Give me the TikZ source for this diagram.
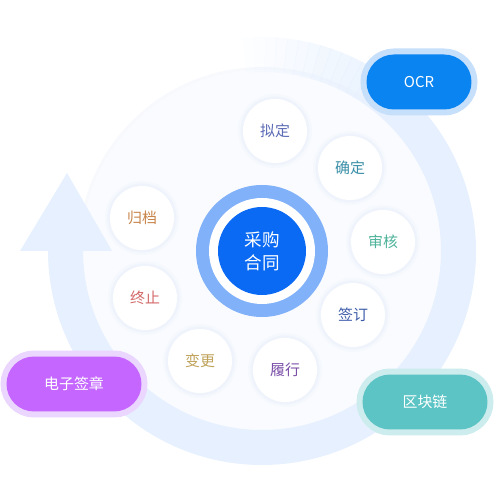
\documentclass[tikz,border=0pt]{standalone}
\usepackage{fontspec}
\setmainfont{Noto Sans CJK SC}
\usetikzlibrary{positioning, shapes.misc, calc}
\definecolor{cBand}{HTML}{E6F0FE}
\definecolor{cDisk}{HTML}{F9FBFF}
\definecolor{cHalo}{HTML}{EFF3FB}
\definecolor{cRing}{HTML}{80B1F9}
\definecolor{cCore}{HTML}{0A6AF3}
\definecolor{cOcr}{HTML}{0A84F0}
\definecolor{cOcrGlow}{HTML}{C6DFFB}
\definecolor{cSign}{HTML}{C466FF}
\definecolor{cSignGlow}{HTML}{EBD6FF}
\definecolor{cChain}{HTML}{5CC4C4}
\definecolor{cChainGlow}{HTML}{CDECEE}
\definecolor{tDraft}{HTML}{5B6BB5}
\definecolor{tConfirm}{HTML}{3A8FA8}
\definecolor{tReview}{HTML}{4DB39A}
\definecolor{tSigned}{HTML}{3D5BA9}
\definecolor{tPerform}{HTML}{7B4FA8}
\definecolor{tChange}{HTML}{C0A35A}
\definecolor{tStop}{HTML}{D46A6A}
\definecolor{tArchive}{HTML}{C8844A}

\begin{document}
\begin{tikzpicture}[
  x=0.02cm, y=0.02cm,
  every node/.style={font=\fontsize{8.5}{10}\selectfont},
  stage/.style={circle, fill=white, minimum size=1.28cm, inner sep=0pt,
                preaction={draw=cHalo!60, line width=0.2cm},
                preaction={draw=cHalo, line width=0.1cm}},
  pill/.style={rounded rectangle, minimum height=1.1cm, text=white, inner sep=0pt},
  core/.style={circle, fill=cCore, minimum size=1.76cm, inner sep=0pt, text=white,
               align=center, font=\fontsize{10}{13}\selectfont},
]
  \useasboundingbox (0,0) rectangle (500,500);

  % Background disk
  \fill[cDisk, preaction={draw=cHalo!50, line width=0.12cm}] (262,249) circle (181);

  % Cycle band with arrow
  \fill[cBand] (262,249) ++(50:214) arc[start angle=50, end angle=-180, radius=214]
    -- ++(35,0) arc[start angle=-180, end angle=50, radius=179] -- cycle;
  \foreach \a in {50,53,...,95}
    \fill[cBand, fill opacity={max(0,1-(\a-47)/48)}] (262,249) ++(\a:214)
      arc[start angle=\a, end angle=\a+3.2, radius=214]
      -- ($(262,249)+(\a+3.2:179)$) arc[start angle=\a+3.2, end angle=\a, radius=179] -- cycle;
  \fill[cBand] (20,249) -- (67,327) -- (112,249) -- cycle;

  % Core
  \fill[cRing] (262,249) circle (66);
  \fill[white] (262,249) circle (53);
  \node[core] (core) at (262,249) {采购\\合同};

  % Stages
  \node[stage, text=tDraft]   (draft)   at (275,369) {拟定};
  \node[stage, text=tConfirm] (confirm) at (350,332) {确定};
  \node[stage, text=tReview]  (review)  at (383,258) {审核};
  \node[stage, text=tSigned]  (signed)  at (353,185) {签订};
  \node[stage, text=tPerform] (perform) at (285,130) {履行};
  \node[stage, text=tChange]  (change)  at (200,139) {变更};
  \node[stage, text=tStop]    (stop)    at (145,202) {终止};
  \node[stage, text=tArchive] (archive) at (142,282) {归档};

  % Tools
  \node[pill, fill=cOcr, minimum width=2.1cm,
        preaction={draw=cOcrGlow, line width=0.24cm}] (ocr) at (419,418) {OCR};
  \node[pill, fill=cSign, minimum width=2.7cm,
        preaction={draw=cSignGlow, line width=0.24cm}] (esign) at (74,116) {电子签章};
  \node[pill, fill=cChain, minimum width=2.5cm,
        preaction={draw=cChainGlow, line width=0.24cm}] (chain) at (425,98) {区块链};
\end{tikzpicture}
\end{document}
